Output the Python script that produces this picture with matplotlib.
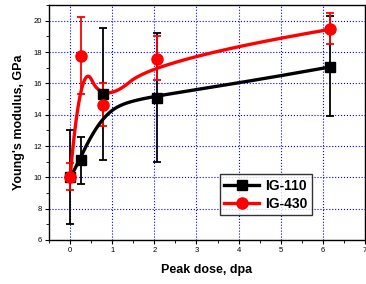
import numpy as np
import matplotlib
matplotlib.use("Agg")
import matplotlib.pyplot as plt
from matplotlib.ticker import MultipleLocator

plt.rcParams['font.family'] = ['Liberation Sans', 'DejaVu Sans']

# --- data ---
dose_110 = [0.0, 0.25, 0.78, 2.06, 6.17]
mod_110 = [10.0, 11.08, 15.35, 15.05, 17.05]
lo_110 = [7.05, 9.55, 11.1, 10.95, 13.9]
hi_110 = [13.0, 12.6, 19.55, 19.2, 20.3]

dose_430 = [0.0, 0.25, 0.78, 2.06, 6.17]
mod_430 = [10.0, 17.75, 14.65, 17.55, 19.45]
lo_430 = [9.2, 15.3, 13.3, 16.2, 18.5]
hi_430 = [10.9, 20.25, 16.0, 19.0, 20.5]


def bspline(xs, ys, k=3, n=400):
    """Clamped B-spline using the data points as control points"""
    P = np.column_stack([xs, ys])
    m = len(P)
    inner = np.linspace(0, 1, m - k + 1)[1:-1]
    knots = np.concatenate([np.zeros(k + 1), inner, np.ones(k + 1)])
    ts = np.linspace(0, 1 - 1e-9, n)
    out = []
    for t in ts:
        i = np.searchsorted(knots, t, side='right') - 1
        d = [P[j + i - k].copy() for j in range(k + 1)]
        for r in range(1, k + 1):
            for j in range(k, r - 1, -1):
                a = (t - knots[j + i - k]) / (knots[j + 1 + i - r] - knots[j + i - k])
                d[j] = (1 - a) * d[j - 1] + a * d[j]
        out.append(d[k])
    out.append(P[-1])
    out = np.array(out)
    return out[:, 0], out[:, 1]


fig = plt.figure(figsize=(3.66, 2.84), dpi=100)
ax = fig.add_axes([0.134, 0.155, 0.863, 0.827])

series = [
    (dose_110, mod_110, lo_110, hi_110, 'black', 's', 7, 3, 'IG-110'),
    (dose_430, mod_430, lo_430, hi_430, 'red', 'o', 8, 2, 'IG-430'),
]
handles = []
for x, y, lo, hi, c, mk, ms, deg, lab in series:
    y = np.array(y)
    yerr = [y - np.array(lo), np.array(hi) - y]
    ax.errorbar(x, y, yerr=yerr, fmt='none', ecolor=c, elinewidth=1.3,
                capsize=3, capthick=1.3, zorder=3)
    sx, sy = bspline(x, y, k=deg)
    ax.plot(sx, sy, color=c, lw=2.4, zorder=4)
    ax.plot(x, y, ls='none', marker=mk, color=c, ms=ms, zorder=5)
    h, = ax.plot([], [], color=c, lw=2.4, marker=mk, ms=ms, label=lab)
    handles.append(h)

ax.set_xlim(-0.5, 7)
ax.set_ylim(6, 21)
ax.xaxis.set_major_locator(MultipleLocator(1))
ax.xaxis.set_minor_locator(MultipleLocator(0.5))
ax.yaxis.set_major_locator(MultipleLocator(2))
ax.yaxis.set_minor_locator(MultipleLocator(1))
ax.grid(True, which='major', color='blue', ls=':', lw=0.8)
ax.tick_params(which='both', direction='out', labelsize=5.5, pad=2)
ax.tick_params(which='major', length=3)
ax.tick_params(which='minor', length=2)
for s in ax.spines.values():
    s.set_linewidth(1.0)

ax.set_xlabel('Peak dose, dpa', fontsize=9, fontweight='bold', labelpad=7)
ax.set_ylabel("Young's modulus, GPa", fontsize=9, fontweight='bold', labelpad=6)

leg = ax.legend(handles=handles, loc='upper left', bbox_to_anchor=(0.54, 0.28),
                frameon=True, fancybox=False, edgecolor='black', handlelength=2.5,
                prop={'weight': 'bold', 'size': 10}, borderpad=0.35,
                labelspacing=0.25, handletextpad=0.4, borderaxespad=0)
leg.get_frame().set_linewidth(1.0)

fig.savefig('out.png', dpi=100)
